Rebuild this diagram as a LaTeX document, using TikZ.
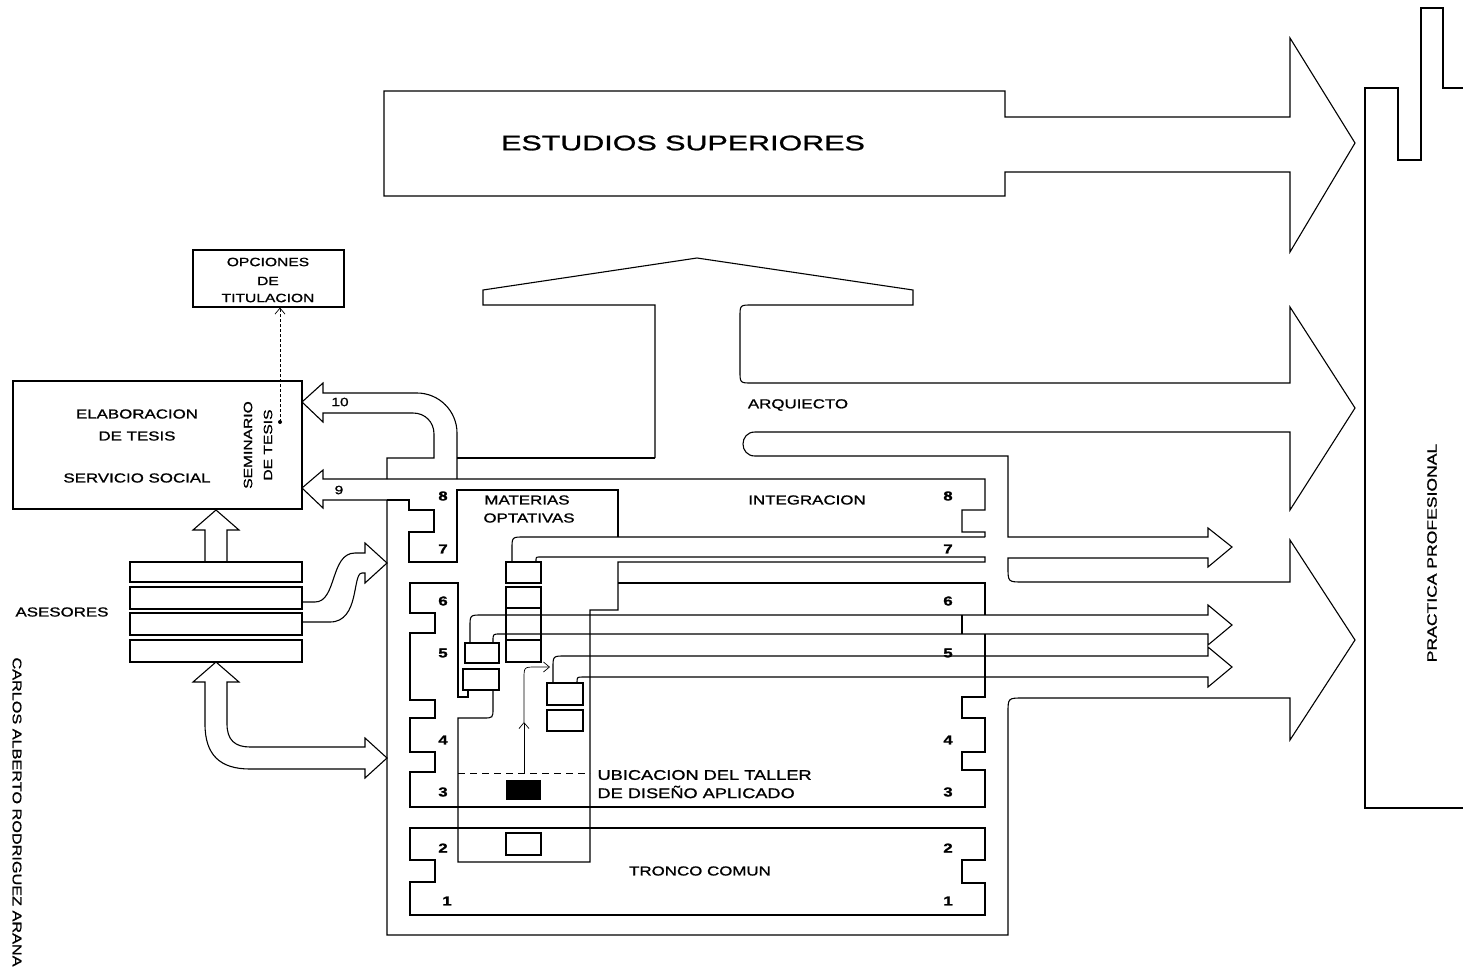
\documentclass[tikz,border=0pt]{standalone}
\usepackage{fontspec}
\setmainfont{Liberation Sans}[FakeStretch=1.3,FakeBold=1.2]
\newfontfamily\wideF{Liberation Sans}[FakeStretch=1.45,FakeBold=1.2]
\usetikzlibrary{arrows.meta}
\begin{document}
\begin{tikzpicture}[x=1pt,y=-1pt, line width=1.1pt, line join=miter,
  lbl/.style={inner sep=0pt, font=\fontsize{13}{15}\selectfont},
  small/.style={inner sep=0pt, font=\fontsize{12}{14}\selectfont},
  num/.style={inner sep=0pt, font=\fontsize{13}{15}\selectfont\bfseries},
  big/.style={inner sep=0pt, font=\wideF\fontsize{21}{24}\selectfont},
  box/.style={draw},
  thinarrow/.style={line width=0.7pt, -{Straight Barb[length=6pt,width=10pt]}},
  dashline/.style={line width=0.9pt, dash pattern=on 7pt off 5pt}]
\fill[white] (0,0) rectangle (1463,969);
\useasboundingbox (0,0) rectangle (1463,969);

% ---------- ESTUDIOS SUPERIORES arrow
\draw (384,91) -- (1005,91) -- (1005,117) -- (1290,117) -- (1290,38) -- (1355,143)
  -- (1290,252) -- (1290,172) -- (1005,172) -- (1005,196) -- (384,196) -- cycle;
\node[big] (estudios) at (683,143) {ESTUDIOS SUPERIORES};

% ---------- PRACTICA PROFESIONAL
\draw (1463,88) -- (1443,88) -- (1443,8) -- (1421,8) -- (1421,160) -- (1398,160)
  -- (1398,88) -- (1365,88) -- (1365,808) -- (1463,808);
\node[lbl, rotate=90, font=\fontsize{13.5}{15}\selectfont] (practica) at (1432,553) {PRACTICA PROFESIONAL};

% ---------- T arrow, ARQUIECTO arrow, right wall and big arrows
\draw (655,458) -- (655,305) -- (483,305) -- (483,290) -- (697,258) -- (913,290)
  -- (913,305) -- (752,305) .. controls (740,305) .. (740,317) -- (740,371)
  .. controls (740,383) .. (752,383) -- (1290,383) -- (1290,307) -- (1355,408)
  -- (1290,510) -- (1290,432) -- (755,432) .. controls (739,432) and (739,456) .. (755,456)
  -- (1008,456) -- (1008,537) -- (1208,537) -- (1208,528) -- (1232,547) -- (1208,567)
  -- (1208,558) -- (1008,558) -- (1008,567) .. controls (1008,582) .. (1023,582)
  -- (1290,582) -- (1290,540) -- (1355,640) -- (1290,740) -- (1290,698)
  -- (1023,698) .. controls (1008,698) .. (1008,713) -- (1008,935) -- (387,935) -- (387,500);
\node[lbl] (arq) at (798,405) {ARQUIECTO};

% ---------- arrows 9 and 10, frame top
\draw (387,500) -- (323,500) -- (323,508) -- (302,488) -- (323,470) -- (323,479)
  -- (985,479) -- (985,510) -- (962,510) -- (962,532) -- (985,532) -- (985,537);
\draw (387,479) -- (387,458) -- (434,458) -- (434,434) .. controls (434,422) and (425,413) .. (413,413)
  -- (323,413) -- (323,422) -- (302,402) -- (323,383) -- (323,393) -- (417,393)
  .. controls (439,393) and (457,411) .. (457,433) -- (457,479);
\draw (457,458) -- (655,458);
\node[small] (n10) at (340,402) {10};
\node[small] (n9) at (339,490) {9};

% ---------- left wall levels 8-7, MATERIAS box
\draw (387,500) -- (409,500) -- (409,510) -- (434,510) -- (434,532) -- (409,532)
  -- (409,562) -- (457,562) -- (457,490) -- (618,490) -- (618,537);
\node[lbl] (mat1) at (527,500) {MATERIAS};
\node[lbl] (mat2) at (529,518) {OPTATIVAS};
\node[lbl] (integ) at (807,500) {INTEGRACION};

% arrow 7
\draw (512,562) -- (512,549) .. controls (512,537) .. (524,537) -- (985,537);
\draw (536,562) -- (536,561) .. controls (536,557) .. (540,557) -- (985,557) -- (985,562)
  -- (618,562) -- (618,610) -- (590,610) -- (590,862) -- (458,862) -- (458,718)
  -- (483,718) .. controls (493,718) .. (493,708) -- (493,690);
\draw (468,690) -- (468,697) -- (458,697) -- (458,583) -- (410,583) -- (410,613)
  -- (435,613) -- (435,633) -- (410,633) -- (410,700) -- (435,700) -- (435,718)
  -- (410,718) -- (410,752) -- (435,752) -- (435,772) -- (410,772) -- (410,807)
  -- (985,807) -- (985,770) -- (962,770) -- (962,752) -- (985,752) -- (985,718)
  -- (962,718) -- (962,697) -- (985,697) -- (985,634);
\draw (618,583) -- (985,583) -- (985,615);
\draw (962,615) -- (962,634);

% bands 2-1
\draw (985,828) -- (410,828) -- (410,860) -- (435,860) -- (435,882) -- (410,882)
  -- (410,915) -- (985,915) -- (985,883) -- (962,883) -- (962,860) -- (985,860) -- cycle;

% arrow 6
\draw (470,643) -- (470,627) .. controls (470,615) .. (482,615) -- (1208,615) -- (1208,605)
  -- (1232,625) -- (1208,645) -- (1208,634) -- (500,634) .. controls (493,634) .. (493,641) -- (493,643);
% arrow 5
\draw (553,683) -- (553,668) .. controls (553,656) .. (565,656) -- (1208,656) -- (1208,647)
  -- (1232,667) -- (1208,687) -- (1208,677) -- (583,677) .. controls (577,677) .. (577,683);

% small boxes
\draw (506,562) rectangle (541,583);
\draw (506,587) rectangle (541,608);
\draw (506,608) -- (506,640) (541,608) -- (541,640);
\draw (506,640) rectangle (541,662);
\draw (465,643) rectangle (499,663);
\draw (463,669) rectangle (499,690);
\draw (547,683) rectangle (583,705);
\draw (547,710) rectangle (583,731);
\fill (506,780) rectangle (541,800);
\draw (506,833) rectangle (541,855);

% taller location
\draw[dashline] (458,773) -- (590,773);
\coordinate (tb) at (524,773);
\coordinate (tm) at (524,722);
\draw[thinarrow] (tb) -- (tm);
\draw[thinarrow] (tm) -- (524,679) .. controls (524,667) .. (536,667) -- (550,667);
\node[lbl, anchor=west, font=\fontsize{14}{16}\selectfont] (ub1) at (597,775) {UBICACION DEL TALLER};
\node[lbl, anchor=west, font=\fontsize{14}{16}\selectfont] (ub2) at (597,792) {DE DISEÑO APLICADO};
\node[lbl] (tronco) at (700,871) {TRONCO COMUN};

% level numbers
\foreach \n/\y in {8/496,7/549,6/601,5/653,4/740,3/792,2/848} {
  \node[num] at (443,\y) {\n};
  \node[num] at (948,\y) {\n};
}
\node[num] at (447,901) {1};
\node[num] at (948,901) {1};

% ---------- left side
\node[box, minimum width=289pt, minimum height=128pt, inner sep=0pt] (elab) at (157.5,445) {};
\node[lbl] at (137,414) {ELABORACION};
\node[lbl] at (137,436) {DE TESIS};
\node[lbl] at (137,478) {SERVICIO SOCIAL};
\node[small, rotate=90] (sem1) at (248,445) {SEMINARIO};
\node[small, rotate=90] (sem2) at (268,445) {DE TESIS};

\node[box, minimum width=151pt, minimum height=57pt, inner sep=0pt] (opc) at (268.5,278.5) {};
\node[small] at (268,262) {OPCIONES};
\node[small] at (268,281) {DE};
\node[small] at (268,298) {TITULACION};
\fill (280,422) circle (2pt);
\coordinate (semdot) at (280,422);
\draw[thinarrow, dash pattern=on 3pt off 2pt] (semdot) -- (opc.south -| semdot);

% asesores
\draw (130,562) rectangle (302,582);
\draw (130,587) rectangle (302,609);
\draw (130,613) rectangle (302,635);
\draw (130,640) rectangle (302,662);
\node[lbl] (ases) at (62,612) {ASESORES};

\draw (205,562) -- (205,530) -- (193,530) -- (216,510) -- (239,530) -- (227,530) -- (227,562);
\draw (365,747) -- (250,747) .. controls (235,747) and (227,740) .. (227,724) -- (227,682)
  -- (239,682) -- (216,662) -- (193,682) -- (205,682) -- (205,724)
  .. controls (205,755) and (220,769) .. (250,769) -- (365,769) -- (365,778) -- (387,758)
  -- (365,738) -- cycle;
\draw (302,602) -- (315,602) .. controls (337,602) and (330,553) .. (355,553) -- (365,553)
  -- (365,543) -- (387,563) -- (365,583) -- (365,573) -- (362,573)
  .. controls (352,573) and (360,622) .. (330,622) -- (302,622);

\node[lbl, rotate=-90, font=\fontsize{12.5}{14}\selectfont] (author) at (17,812) {CARLOS ALBERTO RODRIGUEZ ARANA};
\end{tikzpicture}
\end{document}
